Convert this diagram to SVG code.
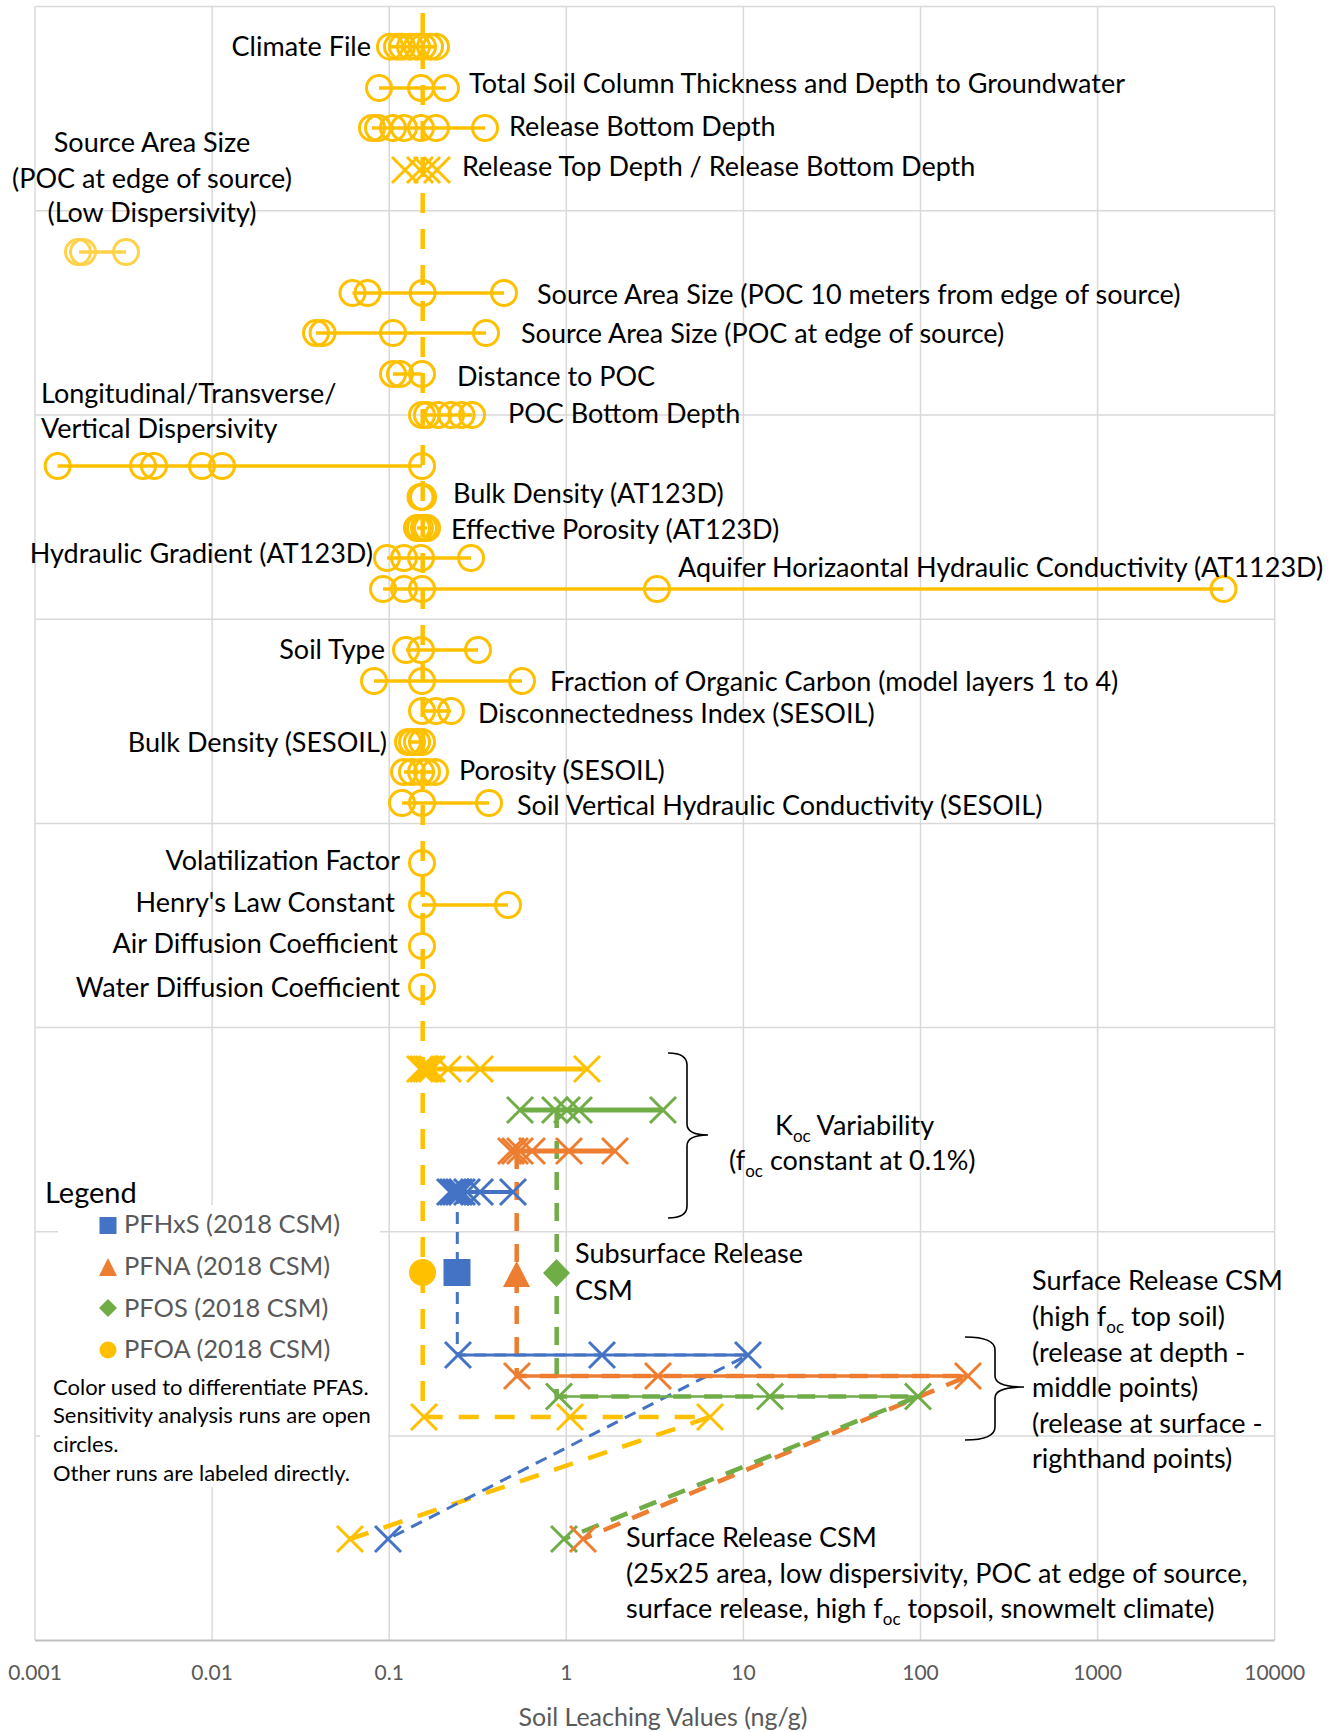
<svg xmlns="http://www.w3.org/2000/svg" xmlns:xlink="http://www.w3.org/1999/xlink" width="1335" height="1732" viewBox="0 0 1335 1732">
<style>
text{font-family:Lato,"Liberation Sans",sans-serif;font-size:27px;fill:#000}
.grid line{stroke:#D9D9D9;stroke-width:1.5}
.c{fill:none;stroke:#FFC000;stroke-width:3}
.cl{fill:none;stroke:#FFD24A;stroke-width:3}
.sl{stroke:#FFC000;stroke-width:3.5;fill:none}
.xy{stroke:#FFC000;stroke-width:3;fill:none}
.xb{stroke:#4472C4;stroke-width:3;fill:none}
.xo{stroke:#ED7D31;stroke-width:3;fill:none}
.xg{stroke:#70AD47;stroke-width:3;fill:none}
.tick{font-size:21px;fill:#595959;text-anchor:middle}
.leg{font-size:25.5px;fill:#595959}
.note{font-size:22px}
.e{text-anchor:end}
.m{text-anchor:middle}
.sub{font-size:17px}
.brace{fill:none;stroke:#000;stroke-width:1.6}
</style>
<defs>
<circle id="cm" r="12.5"/>
<path id="xm" d="M-13,-13L13,13M-13,13L13,-13"/>
</defs>
<rect width="1335" height="1732" fill="#fff"/>
<g id="gridlines" class="grid">
<line x1="35" y1="6.6" x2="35" y2="1640"/>
<line x1="212.1" y1="6.6" x2="212.1" y2="1640"/>
<line x1="389.2" y1="6.6" x2="389.2" y2="1640"/>
<line x1="566.3" y1="6.6" x2="566.3" y2="1640"/>
<line x1="743.4" y1="6.6" x2="743.4" y2="1640"/>
<line x1="920.5" y1="6.6" x2="920.5" y2="1640"/>
<line x1="1097.6" y1="6.6" x2="1097.6" y2="1640"/>
<line x1="1274.7" y1="6.6" x2="1274.7" y2="1640"/>
<line x1="35" y1="6.6" x2="1274.7" y2="6.6"/>
<line x1="35" y1="210.8" x2="1274.7" y2="210.8"/>
<line x1="35" y1="415" x2="1274.7" y2="415"/>
<line x1="35" y1="619.2" x2="1274.7" y2="619.2"/>
<line x1="35" y1="823.4" x2="1274.7" y2="823.4"/>
<line x1="35" y1="1027.6" x2="1274.7" y2="1027.6"/>
<line x1="35" y1="1231.8" x2="1274.7" y2="1231.8"/>
<line x1="35" y1="1436" x2="1274.7" y2="1436"/>
<line x1="35" y1="1640.5" x2="1274.7" y2="1640.5" style="stroke:#BFBFBF;stroke-width:2"/>
</g>
<g id="axis-labels">
<text class="tick" x="35" y="1680">0.001</text>
<text class="tick" x="212.1" y="1680">0.01</text>
<text class="tick" x="389.2" y="1680">0.1</text>
<text class="tick" x="566.3" y="1680">1</text>
<text class="tick" x="743.4" y="1680">10</text>
<text class="tick" x="920.5" y="1680">100</text>
<text class="tick" x="1097.6" y="1680">1000</text>
<text class="tick" x="1274.7" y="1680">10000</text>
<text x="663" y="1726" style="font-size:25px;fill:#595959;text-anchor:middle">Soil Leaching Values (ng/g)</text>
</g>
<g id="legend">
<rect x="58" y="1205" width="322" height="167" fill="#fff"/>
<rect x="40" y="1372" width="348" height="115" fill="#fff"/>
<text x="45" y="1203" style="font-size:29px">Legend</text>
<rect x="99.5" y="1217" width="17" height="17" fill="#4472C4"/>
<path d="M99,1276L108,1258L117,1276Z" fill="#ED7D31"/>
<path d="M108,1299L117,1308L108,1317L99,1308Z" fill="#70AD47"/>
<circle cx="108" cy="1350" r="8.5" fill="#FFC000"/>
<text class="leg" x="124" y="1233">PFHxS (2018 CSM)</text>
<text class="leg" x="124" y="1275">PFNA (2018 CSM)</text>
<text class="leg" x="124" y="1316.5">PFOS (2018 CSM)</text>
<text class="leg" x="124" y="1358">PFOA (2018 CSM)</text>
<text class="note" x="53" y="1395">Color used to differentiate PFAS.</text>
<text class="note" x="53" y="1423">Sensitivity analysis runs are open</text>
<text class="note" x="53" y="1452">circles.</text>
<text class="note" x="53" y="1481">Other runs are labeled directly.</text>
</g>
<g id="connectors">
<path d="M422.7,13V1417H710L350,1539" fill="none" stroke="#FFC000" stroke-width="4.5" stroke-dasharray="20 16"/>
<path d="M457.3,1192V1355H748L388,1539" fill="none" stroke="#4472C4" stroke-width="3" stroke-dasharray="12 8"/>
<path d="M516.7,1151V1376H968L583,1539" fill="none" stroke="#ED7D31" stroke-width="4.5" stroke-dasharray="18 13"/>
<path d="M556.7,1110V1396.5H918L564,1539" fill="none" stroke="#70AD47" stroke-width="4.5" stroke-dasharray="18 13"/>
</g>
<g id="sensitivity-runs">
<g id="climate-file">
<line class="sl" x1="390" y1="46.7" x2="436" y2="46.7"/>
<use href="#cm" class="c" x="390" y="46.7"/><use href="#cm" class="c" x="397" y="46.7"/><use href="#cm" class="c" x="402" y="46.7"/><use href="#cm" class="c" x="410" y="46.7"/><use href="#cm" class="c" x="417" y="46.7"/><use href="#cm" class="c" x="423" y="46.7"/><use href="#cm" class="c" x="430" y="46.7"/><use href="#cm" class="c" x="436" y="46.7"/>
<text class="e" x="371" y="56">Climate File</text>
</g>
<g id="total-soil">
<line class="sl" x1="379" y1="88" x2="446" y2="88"/>
<use href="#cm" class="c" x="379" y="88"/><use href="#cm" class="c" x="421" y="88"/><use href="#cm" class="c" x="446" y="88"/>
<text x="469" y="93">Total Soil Column Thickness and Depth to Groundwater</text>
</g>
<g id="release-bottom">
<line class="sl" x1="372" y1="128" x2="485" y2="128"/>
<use href="#cm" class="c" x="372" y="128"/><use href="#cm" class="c" x="378" y="128"/><use href="#cm" class="c" x="393" y="128"/><use href="#cm" class="c" x="404" y="128"/><use href="#cm" class="c" x="421" y="128"/><use href="#cm" class="c" x="436" y="128"/><use href="#cm" class="c" x="485" y="128"/>
<text x="509" y="136">Release Bottom Depth</text>
</g>
<g id="release-top">
<use href="#xm" class="xy" x="405" y="170"/><use href="#xm" class="xy" x="420" y="170"/><use href="#xm" class="xy" x="427" y="170"/><use href="#xm" class="xy" x="437" y="170"/>
<text x="462" y="176">Release Top Depth / Release Bottom Depth</text>
</g>
<g id="source-area-low-disp">
<line x1="79" y1="252" x2="126" y2="252" stroke="#FFD24A" stroke-width="3.5"/>
<use href="#cm" class="cl" x="78" y="252"/><use href="#cm" class="cl" x="83" y="252"/><use href="#cm" class="cl" x="126" y="252"/>
<text class="m" x="152" y="152">Source Area Size</text>
<text class="m" x="152" y="188">(POC at edge of source)</text>
<text class="m" x="152" y="222">(Low Dispersivity)</text>
</g>
<g id="source-area-10m">
<line class="sl" x1="352.5" y1="293" x2="504" y2="293"/>
<use href="#cm" class="c" x="352.5" y="293"/><use href="#cm" class="c" x="367.5" y="293"/><use href="#cm" class="c" x="422.6" y="293"/><use href="#cm" class="c" x="504" y="293"/>
<text x="537" y="304">Source Area Size (POC 10 meters from edge of source)</text>
</g>
<g id="source-area-edge">
<line class="sl" x1="316" y1="333" x2="486" y2="333"/>
<use href="#cm" class="c" x="316" y="333"/><use href="#cm" class="c" x="322.6" y="333"/><use href="#cm" class="c" x="393" y="333"/><use href="#cm" class="c" x="486" y="333"/>
<text x="521" y="343">Source Area Size (POC at edge of source)</text>
</g>
<g id="distance-poc">
<line class="sl" x1="393" y1="374" x2="422" y2="374"/>
<use href="#cm" class="c" x="393" y="374"/><use href="#cm" class="c" x="400" y="374"/><use href="#cm" class="c" x="422" y="374"/>
<text x="457" y="386">Distance to POC</text>
</g>
<g id="poc-bottom">
<line class="sl" x1="422" y1="415" x2="472" y2="415"/>
<use href="#cm" class="c" x="422" y="415"/><use href="#cm" class="c" x="427" y="415"/><use href="#cm" class="c" x="438" y="415"/><use href="#cm" class="c" x="451" y="415"/><use href="#cm" class="c" x="461.5" y="415"/><use href="#cm" class="c" x="472" y="415"/>
<text x="508" y="423">POC Bottom Depth</text>
</g>
<g id="dispersivity">
<line class="sl" x1="57.7" y1="466" x2="422" y2="466"/>
<use href="#cm" class="c" x="57.7" y="466"/><use href="#cm" class="c" x="143" y="466"/><use href="#cm" class="c" x="154" y="466"/><use href="#cm" class="c" x="202" y="466"/><use href="#cm" class="c" x="222" y="466"/><use href="#cm" class="c" x="422" y="466"/>
<text x="41" y="403">Longitudinal/Transverse/</text>
<text x="41" y="438">Vertical Dispersivity</text>
</g>
<g id="bulk-density-at123d">
<use href="#cm" class="c" x="420.5" y="497"/><use href="#cm" class="c" x="423" y="497"/>
<text x="453" y="503">Bulk Density (AT123D)</text>
</g>
<g id="effective-porosity">
<line class="sl" x1="417" y1="528" x2="427" y2="528"/>
<use href="#cm" class="c" x="417" y="528"/><use href="#cm" class="c" x="420" y="528"/><use href="#cm" class="c" x="424" y="528"/><use href="#cm" class="c" x="427" y="528"/>
<text x="451" y="539">Effective Porosity (AT123D)</text>
</g>
<g id="hydraulic-gradient">
<line class="sl" x1="387" y1="558" x2="471" y2="558"/>
<use href="#cm" class="c" x="387" y="558"/><use href="#cm" class="c" x="404" y="558"/><use href="#cm" class="c" x="421" y="558"/><use href="#cm" class="c" x="471" y="558"/>
<text class="e" x="373" y="563">Hydraulic Gradient (AT123D)</text>
</g>
<g id="aquifer-k">
<line class="sl" x1="383" y1="589" x2="1223.5" y2="589"/>
<use href="#cm" class="c" x="383" y="589"/><use href="#cm" class="c" x="404" y="589"/><use href="#cm" class="c" x="422" y="589"/><use href="#cm" class="c" x="657" y="589"/><use href="#cm" class="c" x="1223.5" y="589"/>
<text x="678" y="577">Aquifer Horizaontal Hydraulic Conductivity (AT1123D)</text>
</g>
<g id="soil-type">
<line class="sl" x1="406" y1="650" x2="478" y2="650"/>
<use href="#cm" class="c" x="406" y="650"/><use href="#cm" class="c" x="421" y="650"/><use href="#cm" class="c" x="478" y="650"/>
<text class="e" x="385" y="659">Soil Type</text>
</g>
<g id="foc">
<line class="sl" x1="374" y1="681" x2="522" y2="681"/>
<use href="#cm" class="c" x="374" y="681"/><use href="#cm" class="c" x="422" y="681"/><use href="#cm" class="c" x="522" y="681"/>
<text x="550" y="691">Fraction of Organic Carbon (model layers 1 to 4)</text>
</g>
<g id="disconnectedness">
<line class="sl" x1="422" y1="711" x2="451" y2="711"/>
<use href="#cm" class="c" x="422" y="711"/><use href="#cm" class="c" x="436" y="711"/><use href="#cm" class="c" x="451" y="711"/>
<text x="478" y="723">Disconnectedness Index (SESOIL)</text>
</g>
<g id="bulk-density-sesoil">
<line class="sl" x1="408" y1="742" x2="422" y2="742"/>
<use href="#cm" class="c" x="408" y="742"/><use href="#cm" class="c" x="412" y="742"/><use href="#cm" class="c" x="417" y="742"/><use href="#cm" class="c" x="422" y="742"/>
<text class="e" x="387" y="752">Bulk Density (SESOIL)</text>
</g>
<g id="porosity-sesoil">
<line class="sl" x1="404" y1="772" x2="435" y2="772"/>
<use href="#cm" class="c" x="404" y="772"/><use href="#cm" class="c" x="412" y="772"/><use href="#cm" class="c" x="421" y="772"/><use href="#cm" class="c" x="427" y="772"/><use href="#cm" class="c" x="435" y="772"/>
<text x="459" y="780">Porosity (SESOIL)</text>
</g>
<g id="soil-vertical-k">
<line class="sl" x1="402" y1="803" x2="489" y2="803"/>
<use href="#cm" class="c" x="402" y="803"/><use href="#cm" class="c" x="422" y="803"/><use href="#cm" class="c" x="489" y="803"/>
<text x="517" y="815">Soil Vertical Hydraulic Conductivity (SESOIL)</text>
</g>
<g id="volatilization">
<use href="#cm" class="c" x="422" y="863"/>
<text class="e" x="400" y="870">Volatilization Factor</text>
</g>
<g id="henry">
<line class="sl" x1="422" y1="905" x2="508" y2="905"/>
<use href="#cm" class="c" x="422" y="905"/><use href="#cm" class="c" x="508" y="905"/>
<text class="e" x="395" y="912">Henry's Law Constant</text>
</g>
<g id="air-diffusion">
<use href="#cm" class="c" x="422" y="946"/>
<text class="e" x="398" y="953">Air Diffusion Coefficient</text>
</g>
<g id="water-diffusion">
<use href="#cm" class="c" x="422" y="987"/>
<text class="e" x="400" y="997">Water Diffusion Coefficient</text>
</g>
</g>
<g id="koc-variability">
<line x1="421" y1="1069" x2="587" y2="1069" stroke="#FFC000" stroke-width="5"/>
<use href="#xm" class="xy" x="420" y="1069"/><use href="#xm" class="xy" x="423" y="1069"/><use href="#xm" class="xy" x="426" y="1069"/><use href="#xm" class="xy" x="429" y="1069"/><use href="#xm" class="xy" x="432" y="1069"/><use href="#xm" class="xy" x="448" y="1069"/><use href="#xm" class="xy" x="480" y="1069"/><use href="#xm" class="xy" x="587" y="1069"/>
<line x1="520" y1="1110" x2="663" y2="1110" stroke="#70AD47" stroke-width="5"/>
<use href="#xm" class="xg" x="520" y="1110"/><use href="#xm" class="xg" x="555" y="1110"/><use href="#xm" class="xg" x="567" y="1110"/><use href="#xm" class="xg" x="579" y="1110"/><use href="#xm" class="xg" x="663" y="1110"/>
<line x1="512" y1="1151" x2="615" y2="1151" stroke="#ED7D31" stroke-width="5"/>
<use href="#xm" class="xo" x="511" y="1151"/><use href="#xm" class="xo" x="515" y="1151"/><use href="#xm" class="xo" x="520" y="1151"/><use href="#xm" class="xo" x="532" y="1151"/><use href="#xm" class="xo" x="569" y="1151"/><use href="#xm" class="xo" x="615" y="1151"/>
<line x1="452" y1="1192" x2="513" y2="1192" stroke="#4472C4" stroke-width="4"/>
<use href="#xm" class="xb" x="450" y="1192"/><use href="#xm" class="xb" x="453" y="1192"/><use href="#xm" class="xb" x="456" y="1192"/><use href="#xm" class="xb" x="459" y="1192"/><use href="#xm" class="xb" x="462" y="1192"/><use href="#xm" class="xb" x="467" y="1192"/><use href="#xm" class="xb" x="480" y="1192"/><use href="#xm" class="xb" x="513" y="1192"/>
<path class="brace" d="M668,1053Q687,1053 687,1065V1124Q687,1135 708,1135Q687,1135 687,1146V1206Q687,1218 668,1218"/>
<text x="775" y="1135">K<tspan class="sub" dy="7">oc</tspan><tspan dy="-7"> Variability</tspan></text>
<text x="729" y="1170">(f<tspan class="sub" dy="7">oc</tspan><tspan dy="-7"> constant at 0.1%)</tspan></text>
</g>
<g id="subsurface-release">
<circle cx="422.5" cy="1272.5" r="13.5" fill="#FFC000"/>
<rect x="443.5" y="1259" width="27" height="27" fill="#4472C4"/>
<path d="M503,1287L516.7,1261L530,1287Z" fill="#ED7D31"/>
<path d="M556.5,1259L570,1273L556.5,1287L543,1273Z" fill="#70AD47"/>
<text x="575" y="1263">Subsurface Release</text>
<text x="575" y="1300">CSM</text>
</g>
<g id="surface-release">
<line x1="458" y1="1355" x2="748" y2="1355" stroke="#4472C4" stroke-width="3"/>
<use href="#xm" class="xb" x="458" y="1355"/><use href="#xm" class="xb" x="602" y="1355"/><use href="#xm" class="xb" x="748" y="1355"/>
<line x1="517" y1="1376" x2="968" y2="1376" stroke="#ED7D31" stroke-width="3.5"/>
<use href="#xm" class="xo" x="517" y="1376"/><use href="#xm" class="xo" x="658" y="1376"/><use href="#xm" class="xo" x="968" y="1376"/>
<line x1="559" y1="1396.5" x2="918" y2="1396.5" stroke="#70AD47" stroke-width="2.5"/>
<use href="#xm" class="xg" x="559" y="1396.5"/><use href="#xm" class="xg" x="770" y="1396.5"/><use href="#xm" class="xg" x="918" y="1396.5"/>
<use href="#xm" class="xy" x="424" y="1417"/><use href="#xm" class="xy" x="570" y="1417"/><use href="#xm" class="xy" x="710" y="1417"/>
<path class="brace" d="M965,1337Q995,1337 995,1350V1376Q995,1387 1024,1387Q995,1387 995,1398V1427Q995,1440 965,1440"/>
<text x="1032" y="1290">Surface Release CSM</text>
<text x="1032" y="1326">(high f<tspan class="sub" dy="7">oc</tspan><tspan dy="-7"> top soil)</tspan></text>
<text x="1032" y="1362">(release at depth -</text>
<text x="1032" y="1397">middle points)</text>
<text x="1032" y="1433">(release at surface -</text>
<text x="1032" y="1468">righthand points)</text>
</g>
<g id="surface-release-25x25">
<use href="#xm" class="xy" x="350" y="1539"/><use href="#xm" class="xb" x="388" y="1539"/><use href="#xm" class="xg" x="564" y="1539"/><use href="#xm" class="xo" x="583" y="1539"/>
<text x="626" y="1547">Surface Release CSM</text>
<text x="626" y="1583">(25x25 area, low dispersivity, POC at edge of source,</text>
<text x="626" y="1618">surface release, high f<tspan class="sub" dy="7">oc</tspan><tspan dy="-7"> topsoil, snowmelt climate)</tspan></text>
</g>
</svg>
